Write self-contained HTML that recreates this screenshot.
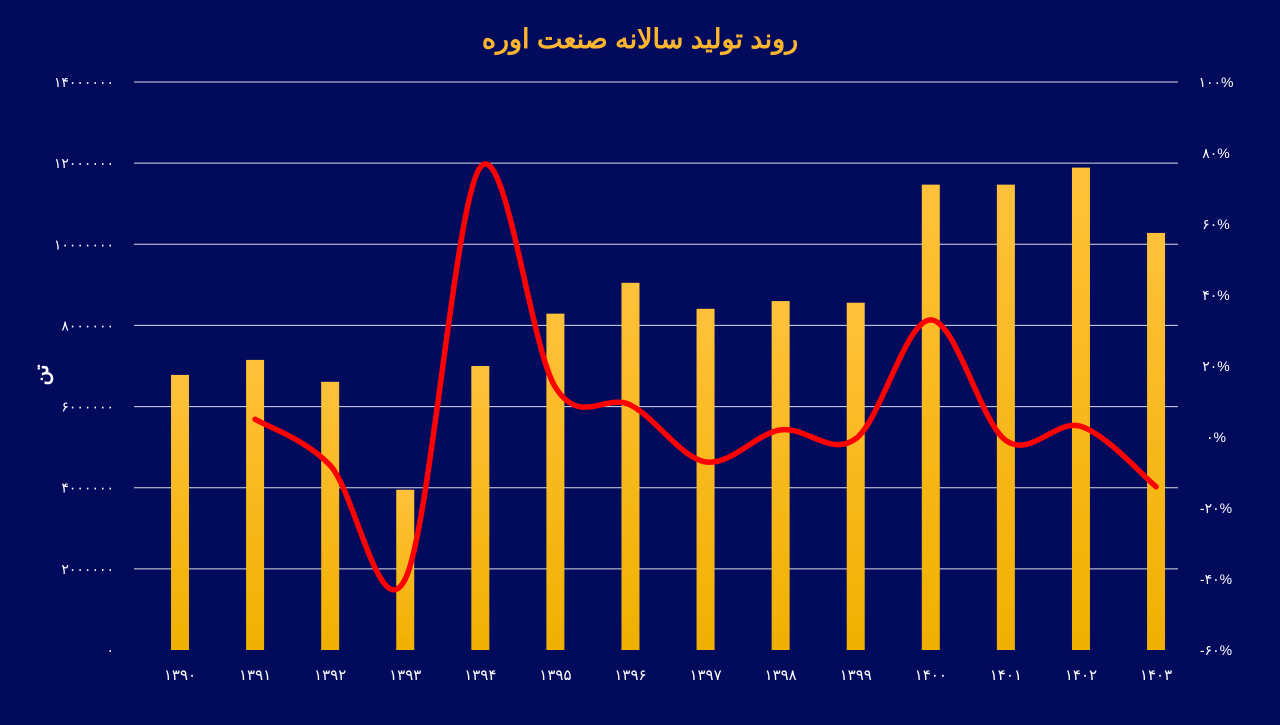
<!DOCTYPE html>
<html><head><meta charset="utf-8">
<style>
html,body{margin:0;padding:0;background:#020a5c;}
body{width:1280px;height:720px;overflow:hidden;font-family:"Liberation Sans","Noto Sans CJK SC",sans-serif;}
</style></head>
<body>
<svg id="chart" width="1280" height="720" xmlns="http://www.w3.org/2000/svg">
<defs>
<linearGradient id="barGrad" x1="0" y1="0" x2="0" y2="1">
<stop offset="0" stop-color="#ffc13a"/><stop offset="1" stop-color="#f0b000"/>
</linearGradient>
</defs>
<rect width="1280" height="720" fill="#020a5c"/>
<text x="640" y="48" text-anchor="middle" font-size="27" font-weight="bold" fill="#ffb52e" font-family="'Liberation Sans','Noto Sans CJK SC',sans-serif">روند تولید سالانه صنعت اوره</text>
<text transform="translate(48,375) rotate(-90)" text-anchor="middle" font-size="20" font-weight="bold" fill="#ffffff">تن</text>
<g id="grid"></g><g id="bars"></g><g id="line"></g><g id="labels"></g>
</svg>
<script>
const categories=["1390","1391","1392","1393","1394","1395","1396","1397","1398","1399","1400","1401","1402","1403"];
const production=[6780000,7150000,6610000,3950000,7000000,8290000,9050000,8410000,8600000,8560000,11470000,11470000,11890000,10280000];
const growth=[null,5,-8,-40,76,14,9,-7,2,-0.5,33,-1,3,-14];
const leftTicks=[0,2000000,4000000,6000000,8000000,10000000,12000000,14000000];
const rightTicks=[-60,-40,-20,0,20,40,60,80,100];

const NS="http://www.w3.org/2000/svg";
const fa=s=>String(s).replace(/[0-9]/g,d=>"۰۱۲۳۴۵۶۷۸۹"[d]);
const yL=v=>650-v/14000000*568;
const yR=v=>650-(v+60)/160*568;
const xC=i=>180+i*75.08;
function mk(tag,attrs,parent){const e=document.createElementNS(NS,tag);for(const k in attrs)e.setAttribute(k,attrs[k]);document.getElementById(parent).appendChild(e);return e;}

leftTicks.forEach((t,i)=>{
  if(t>0){const g=mk("line",{x1:134,x2:1178,y1:yL(t),y2:yL(t),stroke:"#ffffff","stroke-width":1,opacity:0.85},"grid");
  
  }
  const l=mk("text",{x:114,y:yL(t)+5,"text-anchor":"end","font-size":14,fill:"#ffffff"},"labels");
  l.textContent=fa(t);
  
  
});
rightTicks.forEach(t=>{
  const l=mk("text",{x:1216,y:yR(t)+5,"text-anchor":"middle","font-size":14,fill:"#ffffff"},"labels");
  l.textContent=fa(t)+"%";
  
  
});
categories.forEach((c,i)=>{
  const b=mk("rect",{x:xC(i)-9,y:yL(production[i]),width:18,height:650-yL(production[i]),fill:"url(#barGrad)"},"bars");
  
  
  const l=mk("text",{x:xC(i),y:680,"text-anchor":"middle","font-size":15,fill:"#ffffff"},"labels");
  l.textContent=fa(c);
  
  
});
const pts=[];growth.forEach((g,i)=>{if(g!==null)pts.push([xC(i),yR(g)]);});
let d="M"+pts[0][0]+","+pts[0][1];
for(let i=0;i<pts.length-1;i++){
  const p0=pts[Math.max(0,i-1)],p1=pts[i],p2=pts[i+1],p3=pts[Math.min(pts.length-1,i+2)];
  const c1=[p1[0]+(p2[0]-p0[0])/6,p1[1]+(p2[1]-p0[1])/6];
  const c2=[p2[0]-(p3[0]-p1[0])/6,p2[1]-(p3[1]-p1[1])/6];
  d+=" C"+c1+" "+c2+" "+p2;
}
const ln=mk("path",{d:d,fill:"none",stroke:"#ff0000","stroke-width":5.5,"stroke-linecap":"round","stroke-linejoin":"round"},"line");


</script>
</body></html>
